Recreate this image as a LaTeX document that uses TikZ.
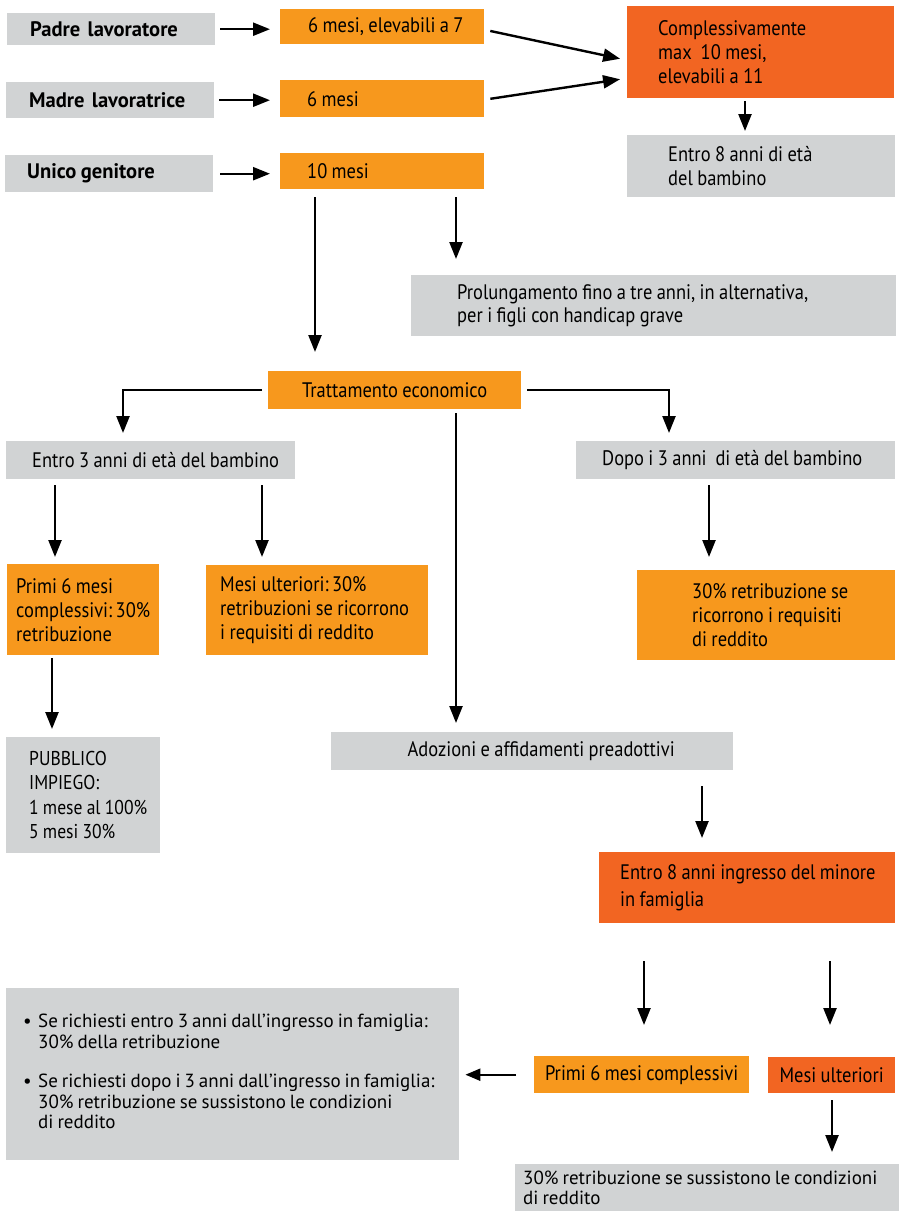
\documentclass[tikz,border=0pt]{standalone}
\usepackage{fontspec}
\setmainfont{PT Sans}[FakeStretch=0.88, BoldFeatures={FakeStretch=0.98}]
\newfontfamily\plainf{PT Sans}
\newcommand\tightsp{\spaceskip=0.21em\relax}
\usetikzlibrary{arrows.meta}
\definecolor{gr}{HTML}{D1D3D4}
\definecolor{orl}{HTML}{F7981D}
\definecolor{ord}{HTML}{F26522}
\begin{document}
\begin{tikzpicture}[x=1pt,y=-1pt,
  every node/.style={font=\fontsize{21}{24}\selectfont, inner sep=0pt, anchor=north west, align=left, execute at begin node={\tightsp}},
  gbox/.style={fill=gr},
  obox/.style={fill=orl},
  dbox/.style={fill=ord},
  lp/.style={execute at begin node={\leftskip=#1pt\tightsp}},
  bigf/.style={font=\fontsize{21}{24}\selectfont\bfseries},
  smallf/.style={font=\plainf\fontsize{19}{20.5}\selectfont},
  arr/.style={line width=2.4pt, -{Triangle[length=17pt,width=13pt]}},
  sarr/.style={line width=2.2pt, -{Triangle[length=15pt,width=12pt]}}]
\useasboundingbox (0,0) rectangle (899,1211);
% x positions for vertical connectors
\foreach \v in {52,55,123,262,315,456,644,669,702,709,745,830,832}
  \coordinate (c\v) at (\v,0);

% first column
\node[gbox, bigf, lp=23, text width=208pt, minimum height=32pt] (padre) at (7,13) {Padre\hspace{0.35em}lavoratore};
\node[gbox, bigf, lp=23, text width=208pt, minimum height=36pt] (madre) at (6,82) {Madre\hspace{0.35em}lavoratrice};
\node[gbox, bigf, lp=22, text width=208pt, minimum height=37pt] (unico) at (5,155) {Unico genitore};

% second column
\node[obox, lp=28, text width=204pt, minimum height=35pt] (p7) at (280,9) {6 mesi, elevabili a 7};
\node[obox, lp=27, text width=204pt, minimum height=37pt] (m6) at (280,80) {6 mesi};
\node[obox, lp=27, text width=204pt, minimum height=36pt] (u10) at (280,153) {10 mesi};

% right column top
\node[dbox, lp=31, text width=267pt, minimum height=92pt] (compl) at (627,6) {Complessivamente\\max\ \ 10 mesi,\\elevabili a 11};
\node[gbox, lp=41, text width=268pt, minimum height=62pt] (entro8) at (627,135) {Entro 8 anni di età\\del bambino};

\node[gbox, lp=46, text width=485pt, minimum height=61pt, font=\fontsize{21}{23.5}\selectfont] (prol) at (411,275) {Prolungamento fino a tre anni, in alternativa,\\per i figli con handicap grave};

\node[obox, align=center, text width=253pt, minimum height=38pt] (trat) at (268,371) {Trattamento economico};

\node[gbox, lp=26, text width=289pt, minimum height=38pt] (entro3) at (6,441) {Entro 3 anni di età del bambino};
\node[gbox, lp=26, text width=319pt, minimum height=38pt] (dopo) at (576,441) {Dopo i 3 anni\ \ di età del bambino};

\node[obox, lp=9, text width=152pt, minimum height=91pt] (primi6) at (7,564) {Primi 6 mesi\\complessivi:\,30\%\\retribuzione};
\node[obox, lp=14, text width=222pt, minimum height=90pt] (ulter) at (206,565) {Mesi ulteriori:\,30\%\\retribuzioni se ricorrono\\i requisiti di reddito};
\node[obox, lp=55, text width=258pt, minimum height=90pt] (r30) at (637,570) {30\% retribuzione se\\ricorrono i requisiti\\di reddito};

\node[gbox, lp=23, text width=154pt, minimum height=116pt, font=\fontsize{20}{24.5}\selectfont] (pubb) at (6,737) {PUBBLICO\\IMPIEGO:\\1 mese al 100\%\\5 mesi 30\%};
\node[gbox, align=center, text width=402pt, minimum height=38pt] (adoz) at (331,732) {\hspace*{18pt}Adozioni e affidamenti preadottivi};

\node[dbox, lp=21, text width=296pt, minimum height=71pt, font=\fontsize{21}{27}\selectfont] (ent8m) at (599,852) {Entro 8 anni ingresso del minore\\in famiglia};

\node[obox, align=center, text width=215pt, minimum height=37pt] (pr6c) at (534,1056) {Primi 6 mesi complessivi};
\node[dbox, align=center, text width=127pt, minimum height=36pt] (mu) at (768,1057) {Mesi ulteriori};

\node[gbox, smallf, lp=17, text width=453pt, minimum height=172pt] (bul) at (6,988)
  {\begin{tabular}{@{}p{15pt}@{}l@{}}
   \textbullet & Se richiesti entro 3 anni dall’ingresso in famiglia:\\
               & 30\% della retribuzione\\[19pt]
   \textbullet & Se richiesti dopo i 3 anni dall’ingresso in famiglia:\\
               & 30\% retribuzione se sussistono le condizioni\\
               & di reddito
   \end{tabular}};

\node[gbox, smallf, lp=8, text width=384pt, minimum height=47pt] (r30b) at (515,1164) {30\% retribuzione se sussistono le condizioni\\di reddito};

% connectors
\draw[arr, shorten <=5pt, shorten >=10pt] (padre.east) -- (padre.east -| p7.west);
\draw[arr, shorten <=5pt, shorten >=10pt] (madre.east) -- (madre.east -| m6.west);
\draw[arr, shorten <=7pt, shorten >=10pt] (unico.east) -- (unico.east -| u10.west);
\draw[arr, shorten <=6pt, shorten >=7pt] ([yshift=-3pt]p7.east) -- ([yshift=-8pt]compl.west);
\draw[arr, shorten <=6pt, shorten >=7pt] ([yshift=-1pt]m6.east) -- ([yshift=-26pt]compl.west);
\draw[arr, shorten <=3pt, shorten >=4pt] (compl.south -| c745) -- (entro8.north -| c745);
\draw[arr, shorten <=8pt, shorten >=16pt] (u10.south -| c456) -- (prol.north -| c456);
\draw[arr, shorten <=8pt, shorten >=19pt] (u10.south -| c315) -- (trat.north -| c315);
\draw[arr, shorten <=6pt, shorten >=8pt] (trat.west) -| (entro3.north -| c123);
\draw[arr, shorten <=6pt, shorten >=8pt] (trat.east) -| (dopo.north -| c669);
\draw[arr, shorten <=4pt, shorten >=9pt] (trat.south -| c456) -- (adoz.north -| c456);
\draw[arr, shorten <=6pt, shorten >=7pt] (entro3.south -| c55) -- (primi6.north -| c55);
\draw[arr, shorten <=6pt, shorten >=8pt] (entro3.south -| c262) -- (ulter.north -| c262);
\draw[arr, shorten <=6pt, shorten >=13pt] (dopo.south -| c709) -- (r30.north -| c709);
\draw[arr, shorten <=3pt, shorten >=8pt] (primi6.south -| c52) -- (pubb.north -| c52);
\draw[arr, shorten <=16pt, shorten >=14pt] (adoz.south -| c702) -- (ent8m.north -| c702);
\draw[arr, shorten <=38pt, shorten >=31pt] (ent8m.south -| c644) -- (pr6c.north -| c644);
\draw[arr, shorten <=38pt, shorten >=32pt] (ent8m.south -| c830) -- (mu.north -| c830);
\draw[sarr, shorten <=18pt, shorten >=6pt] (pr6c.west) -- (pr6c.west -| bul.east);
\draw[arr, shorten <=7pt, shorten >=12pt] (mu.south -| c832) -- (r30b.north -| c832);
\end{tikzpicture}
\end{document}
